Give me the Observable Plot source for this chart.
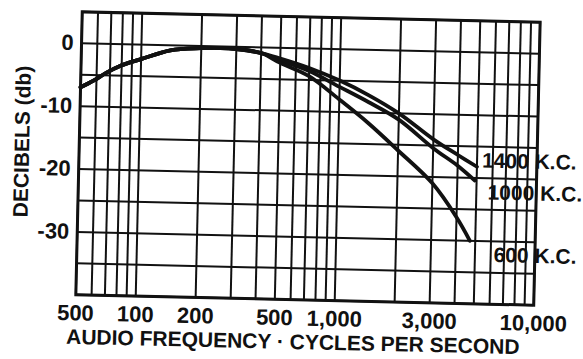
<!DOCTYPE html>
<html>
<head>
<meta charset="utf-8">
<script src="https://cdn.jsdelivr.net/npm/d3@7"></script>
<script src="https://cdn.jsdelivr.net/npm/@observablehq/plot@0.6"></script>
<style>
  html, body { margin: 0; padding: 0; background: #ffffff; }
  #chart { width: 583px; height: 359px; overflow: hidden; }
</style>
</head>
<body>
<div id="chart"></div>
<script>
// ---- data ----
// shared low-frequency part of all three curves
const freqCommon = [50, 58, 67, 78, 100, 140, 200, 250, 300, 400];
const dbCommon   = [-7.0, -5.9, -4.6, -3.5, -2.3, -0.8, -0.35, -0.25, -0.35, -0.9];

// upper part, per broadcast frequency
const seriesNames = ["1400 K.C.", "1000 K.C.", "600 K.C."];
const freq1400 = [500, 700, 1000, 1400, 2000, 3000, 4000, 5000];
const db1400   = [-1.7, -3.1, -5.0, -7.2, -10.0, -14.0, -16.4, -18.2];
const freq1000 = [500, 700, 1000, 1400, 2000, 3000, 4000, 4900];
const db1000   = [-2.0, -3.6, -6.0, -8.3, -11.0, -15.4, -18.1, -20.4];
const freq600  = [500, 700, 1000, 1400, 2000, 3000, 4000, 4700];
const db600    = [-2.4, -4.4, -8.0, -11.6, -15.9, -21.0, -26.3, -30.0];

// grid and ticks
const xGrid = [50, 60, 70, 80, 90, 100, 200, 300, 400, 500, 600, 700, 800, 900,
               1000, 2000, 3000, 4000, 5000, 6000, 7000, 8000, 9000, 10000];
const yGrid = [5, 0, -5, -10, -15, -20, -25, -30, -35, -40];
const xTicks = [50, 100, 200, 500, 1000, 3000, 10000];
const xTickLabels = ["500", "100", "200", "500", "1,000", "3,000", "10,000"];
const yTicks = [0, -10, -20, -30];
const yTickLabels = ["0", "-10", "-20", "-30"];
const xLabel = "AUDIO FREQUENCY · CYCLES PER SECOND";
const yLabel = "DECIBELS (db)";

// ---- build table ----
const upper = [[freq1400, db1400], [freq1000, db1000], [freq600, db600]];
const rows = [];
seriesNames.forEach((name, k) => {
  freqCommon.forEach((f, i) => rows.push({series: name, f, db: dbCommon[i]}));
  upper[k][0].forEach((f, i) => rows.push({series: name, f, db: upper[k][1][i]}));
});
const ends = seriesNames.map((name, k) => {
  const fs = upper[k][0], ds = upper[k][1];
  return {series: name, f: fs[fs.length - 1], db: ds[ds.length - 1]};
});

const xLab = new Map(xTicks.map((d, i) => [d, xTickLabels[i]]));
const yLab = new Map(yTicks.map((d, i) => [d, yTickLabels[i]]));
const ink = "#111";
const labelOffsets = [[5, -6], [13, 12], [24, 14]];

const chart = Plot.plot({
  width: 583,
  height: 359,
  marginLeft: 78.5,
  marginRight: 46.5,
  marginTop: 16.5,
  marginBottom: 59.5,
  style: {
    fontFamily: "'Liberation Sans', Arial, sans-serif",
    fontSize: "22px",
    fontWeight: "bold",
    color: ink,
    background: "#ffffff",
    overflow: "visible"
  },
  x: {type: "log", domain: [50, 10000], axis: null},
  y: {domain: [-40, 5]},
  marks: [
    Plot.ruleX(xGrid, {stroke: ink, strokeWidth: 2}),
    Plot.ruleY(yGrid, {stroke: ink, strokeWidth: 2}),
    Plot.frame({stroke: ink, strokeWidth: 3}),
    Plot.line(rows, {x: "f", y: "db", z: "series", stroke: ink, strokeWidth: 3.8,
                     curve: "catmull-rom", strokeLinecap: "round"}),
    // x tick labels (through the x scale)
    Plot.text(xTicks, {x: d => d, text: d => xLab.get(d), frameAnchor: "bottom",
                       lineAnchor: "top", textAnchor: "middle", dy: 10, fill: ink}),
    Plot.axisY(yTicks, {tickSize: 0, tickPadding: 8, tickFormat: d => yLab.get(d),
                        label: null, fill: ink}),
    Plot.text([xLabel], {frameAnchor: "bottom", lineAnchor: "middle", textAnchor: "middle",
                         dy: 42.5, dx: -11, fontSize: 21, fill: ink}),
    Plot.text([yLabel], {frameAnchor: "left", lineAnchor: "middle", textAnchor: "middle",
                         dx: -56.8, dy: -10.5, rotate: -90, fontSize: 21, fill: ink}),
    ...ends.map((e, k) => Plot.text([e], {x: "f", y: "db", text: "series",
        textAnchor: "start", dx: labelOffsets[k][0], dy: labelOffsets[k][1],
        fontSize: 21, fill: ink}))
  ]
});
chart.style.transformOrigin = "307.5px 158px";
chart.style.transform = "rotate(1.3deg)";
document.getElementById("chart").appendChild(chart);
</script>
</body>
</html>
